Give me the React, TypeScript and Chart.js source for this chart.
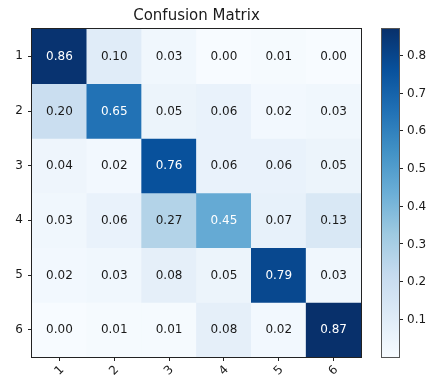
import React, { useEffect, useRef } from "react";
import { Chart, registerables } from "chart.js";

Chart.register(...registerables);

// ---- data ----
const classLabels = ["1", "2", "3", "4", "5", "6"];
const row1 = [0.86, 0.10, 0.03, 0.00, 0.01, 0.00];
const row2 = [0.20, 0.65, 0.05, 0.06, 0.02, 0.03];
const row3 = [0.04, 0.02, 0.76, 0.06, 0.06, 0.05];
const row4 = [0.03, 0.06, 0.27, 0.45, 0.07, 0.13];
const row5 = [0.02, 0.03, 0.08, 0.05, 0.79, 0.03];
const row6 = [0.00, 0.01, 0.01, 0.08, 0.02, 0.87];
const matrix = [row1, row2, row3, row4, row5, row6];
const colorbarTicks = [0.1, 0.2, 0.3, 0.4, 0.5, 0.6, 0.7, 0.8];
const vmin = 0;
const vmax = 0.87;
const titleText = "Confusion Matrix";

// matplotlib "Blues" colormap anchors
const BLUES = [
  [247, 251, 255],
  [222, 235, 247],
  [198, 219, 239],
  [158, 202, 225],
  [107, 174, 214],
  [66, 146, 198],
  [33, 113, 181],
  [8, 81, 156],
  [8, 48, 107],
];

function blues(t: number): string {
  const tt = Math.max(0, Math.min(1, t)) * (BLUES.length - 1);
  const i = Math.min(BLUES.length - 2, Math.floor(tt));
  const f = tt - i;
  const a = BLUES[i];
  const b = BLUES[i + 1];
  const c = a.map((v, k) => Math.round(v + (b[k] - v) * f));
  return `rgb(${c[0]},${c[1]},${c[2]})`;
}

const FONT = "'DejaVu Sans', sans-serif";
const TEXT_COLOR = "#1a1a1a";
const FS = 12;

export default function App() {
  const mainRef = useRef<HTMLCanvasElement | null>(null);
  const barRef = useRef<HTMLCanvasElement | null>(null);

  useEffect(() => {
    document.body.style.margin = "0";
    document.body.style.overflow = "hidden";
    const thresh = (vmax + vmin) / 2;

    const datasets = matrix.map((row, r) => ({
      label: classLabels[r],
      data: row.map(() => [r + 0.5, r + 1.5]),
      backgroundColor: row.map((v) => blues((v - vmin) / (vmax - vmin))),
      borderWidth: 0,
      barPercentage: 1,
      categoryPercentage: 1,
      grouped: false,
    }));

    const mainPlugin = {
      id: "cmDecor",
      afterDatasetsDraw(chart: any) {
        const ctx = chart.ctx;
        const xs = chart.scales.x;
        const ys = chart.scales.y;
        ctx.save();
        ctx.font = `${FS}px ${FONT}`;
        ctx.textAlign = "center";
        ctx.textBaseline = "middle";
        matrix.forEach((row, r) => {
          row.forEach((v, c) => {
            ctx.fillStyle = v > thresh ? "#ffffff" : TEXT_COLOR;
            ctx.fillText(v.toFixed(2), xs.getPixelForValue(c), ys.getPixelForValue(r + 1) + 0.5);
          });
        });
        ctx.restore();
      },
      afterDraw(chart: any) {
        const ctx = chart.ctx;
        const a = chart.chartArea;
        const xs = chart.scales.x;
        ctx.save();
        // frame
        ctx.strokeStyle = "#222";
        ctx.lineWidth = 1;
        ctx.strokeRect(a.left - 0.5, a.top - 0.5, a.right - a.left + 1, a.bottom - a.top + 1);
        // title
        ctx.fillStyle = TEXT_COLOR;
        ctx.font = `15px ${FONT}`;
        ctx.textAlign = "center";
        ctx.textBaseline = "middle";
        ctx.fillText(titleText, (a.left + a.right) / 2, 8.5);
        // rotated x tick labels
        ctx.font = `${FS}px ${FONT}`;
        classLabels.forEach((lab, i) => {
          const x = xs.getPixelForValue(i);
          ctx.save();
          ctx.translate(x, a.bottom + 13.5);
          ctx.rotate(-Math.PI / 4);
          ctx.fillText(lab, 0, 0);
          ctx.restore();
        });
        ctx.restore();
      },
    };

    const main = new Chart(mainRef.current as HTMLCanvasElement, {
      type: "bar",
      data: { labels: classLabels, datasets: datasets as any },
      options: {
        animation: false,
        responsive: false,
        maintainAspectRatio: false,
        layout: { padding: { left: 0, right: 9, top: 21, bottom: 0 } },
        plugins: {
          legend: { display: false },
          tooltip: { enabled: false },
          title: { display: false },
        },
        scales: {
          x: {
            type: "category",
            offset: true,
            grid: {
              display: true,
              offset: false,
              drawOnChartArea: false,
              drawTicks: true,
              tickLength: 4,
              color: "#222",
              lineWidth: 1,
            },
            border: { display: false },
            ticks: { display: false },
            afterFit(s: any) {
              s.height = 21;
            },
          },
          y: {
            type: "linear",
            min: 0.5,
            max: 6.5,
            reverse: true,
            afterBuildTicks(s: any) {
              s.ticks = classLabels.map((_, i) => ({ value: i + 1 }));
            },
            ticks: {
              callback: (v: any) => classLabels[Math.round(Number(v)) - 1],
              font: { family: FONT, size: FS },
              color: TEXT_COLOR,
              padding: 5,
            },
            grid: {
              drawOnChartArea: false,
              drawTicks: true,
              tickLength: 4,
              color: "#222",
              lineWidth: 1,
            },
            border: { display: false },
            afterFit(s: any) {
              s.width = 24;
            },
          },
        },
      } as any,
      plugins: [mainPlugin],
    });

    const barPlugin = {
      id: "cbFrame",
      afterDraw(chart: any) {
        const ctx = chart.ctx;
        const a = chart.chartArea;
        const ys = chart.scales.y;
        ctx.save();
        ctx.strokeStyle = "#555";
        ctx.lineWidth = 1;
        ctx.strokeRect(a.left - 0.5, a.top - 0.5, a.right - a.left + 1, a.bottom - a.top + 1);
        ctx.fillStyle = TEXT_COLOR;
        ctx.font = `${FS}px ${FONT}`;
        ctx.textAlign = "left";
        ctx.textBaseline = "middle";
        colorbarTicks.forEach((v) => {
          ctx.fillText(v.toFixed(1), a.right + 8, ys.getPixelForValue(v) + 0.5);
        });
        ctx.restore();
      },
    };

    const colorbar = new Chart(barRef.current as HTMLCanvasElement, {
      type: "bar",
      data: {
        labels: [""],
        datasets: [
          {
            data: [[vmin, vmax]] as any,
            backgroundColor: (c: any) => {
              const chart = c.chart;
              const ys = chart.scales && chart.scales.y;
              if (!chart.chartArea || !ys) return blues(0);
              const g = chart.ctx.createLinearGradient(
                0,
                ys.getPixelForValue(vmin),
                0,
                ys.getPixelForValue(vmax)
              );
              BLUES.forEach((col, i) =>
                g.addColorStop(i / (BLUES.length - 1), `rgb(${col[0]},${col[1]},${col[2]})`)
              );
              return g;
            },
            borderWidth: 0,
            barPercentage: 1,
            categoryPercentage: 1,
          },
        ],
      },
      options: {
        animation: false,
        responsive: false,
        maintainAspectRatio: false,
        layout: { padding: { left: 6, right: 0, top: 21, bottom: 21 } },
        plugins: {
          legend: { display: false },
          tooltip: { enabled: false },
          title: { display: false },
        },
        scales: {
          x: { display: false },
          y: {
            position: "right",
            min: vmin,
            max: vmax,
            afterBuildTicks(s: any) {
              s.ticks = colorbarTicks.map((v) => ({ value: v }));
            },
            ticks: { display: false },
            grid: {
              drawOnChartArea: false,
              drawTicks: true,
              tickLength: 4,
              color: "#222",
              lineWidth: 1,
            },
            border: { display: false },
            afterFit(s: any) {
              s.width = 33;
            },
          },
        },
      } as any,
      plugins: [barPlugin],
    });

    return () => {
      main.destroy();
      colorbar.destroy();
    };
  }, []);

  return (
    <div style={{ position: "relative", width: 432, height: 381, margin: 0 }}>
      <canvas
        ref={mainRef}
        width={362}
        height={370}
        style={{ position: "absolute", left: 8, top: 8, width: 362, height: 370 }}
      />
      <canvas
        ref={barRef}
        width={56}
        height={370}
        style={{ position: "absolute", left: 376, top: 8, width: 56, height: 370 }}
      />
    </div>
  );
}
